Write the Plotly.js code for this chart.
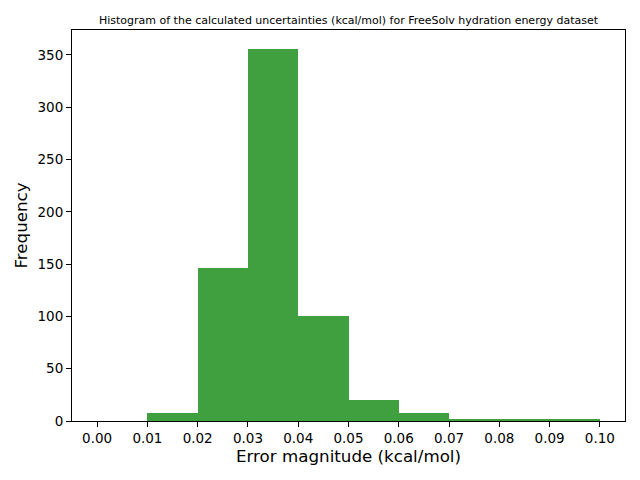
<!DOCTYPE html>
<html>
<head>
<meta charset="utf-8">
<script src="https://cdn.plot.ly/plotly-3.0.1.min.js"></script>
<style>html,body{margin:0;padding:0;background:#fff;}#chart{width:640px;height:480px;}</style>
</head>
<body>
<div id="chart"></div>
<script>
const binStarts = [0.00, 0.01, 0.02, 0.03, 0.04, 0.05, 0.06, 0.07, 0.08, 0.09];
const counts = [0, 8, 146, 356, 100, 20, 8, 2, 1, 1];
const binWidth = 0.01;
const xTicks = [0.00, 0.01, 0.02, 0.03, 0.04, 0.05, 0.06, 0.07, 0.08, 0.09, 0.10];
const xTickLabels = ["0.00","0.01","0.02","0.03","0.04","0.05","0.06","0.07","0.08","0.09","0.10"];
const yTicks = [0, 50, 100, 150, 200, 250, 300, 350];

const font = "DejaVu Sans, sans-serif";
const ymax = Math.max(...counts) * 1.05;

Plotly.newPlot('chart', [{
  type: 'bar',
  x: binStarts.map(b => b + binWidth / 2),
  y: counts,
  width: binWidth,
  marker: {color: 'rgb(64,160,64)', line: {width: 0}},
  hoverinfo: 'x+y'
}], {
  width: 640, height: 480,
  margin: {l: 72, r: 15, t: 30, b: 59, pad: 0},
  paper_bgcolor: '#fff', plot_bgcolor: '#fff',
  bargap: 0,
  showlegend: false,
  title: {
    text: 'Histogram of the calculated uncertainties (kcal/mol) for FreeSolv hydration energy dataset',
    font: {family: font, size: 11, color: '#000'},
    x: 0.5, xref: 'paper', xanchor: 'center', y: 1, yref: 'paper', yanchor: 'bottom', pad: {b: 6}
  },
  xaxis: {
    range: [-0.005, 0.105],
    tickvals: xTicks, ticktext: xTickLabels,
    ticks: 'outside', ticklen: 5, tickwidth: 1, tickcolor: '#000',
    showgrid: false, zeroline: false,
    showline: true, linecolor: '#000', linewidth: 1, mirror: true,
    tickfont: {family: font, size: 13.5, color: '#000'},
    title: {text: 'Error magnitude (kcal/mol)', font: {family: font, size: 16.7, color: '#000'}, standoff: 5}
  },
  yaxis: {
    range: [0, ymax],
    tickvals: yTicks,
    ticks: 'outside', ticklen: 5, tickwidth: 1, tickcolor: '#000',
    showgrid: false, zeroline: false,
    showline: true, linecolor: '#000', linewidth: 1, mirror: true,
    tickfont: {family: font, size: 13.5, color: '#000'},
    title: {text: 'Frequency', font: {family: font, size: 16.7, color: '#000'}, standoff: 5}
  }
}, {displayModeBar: false});
</script>
</body>
</html>
